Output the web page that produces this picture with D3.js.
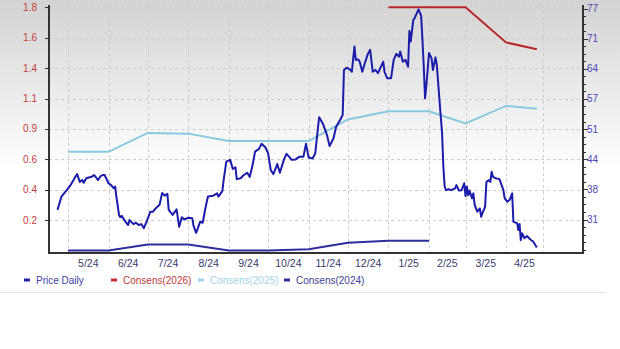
<!DOCTYPE html>
<html>
<head>
<meta charset="utf-8">
<script src="https://cdn.jsdelivr.net/npm/d3@7"></script>
<style>
  body { margin: 0; background: #fff; }
</style>
</head>
<body>
<svg width="620" height="349"></svg>
<script>
const width = 620;
const height = 349;

// plot frame
let plotLeft = 49,
  plotRight = 583,
  plotTop = 5,
  plotBottom = 253;

// data
const leftTickLabels = ["0.2", "0.4", "0.6", "0.9", "1.1", "1.4", "1.6", "1.8"];
const rightTickLabels = ["31", "38", "44", "51", "57", "64", "71", "77"];
const monthLabels = ["5/24", "6/24", "7/24", "8/24", "9/24", "10/24", "11/24", "12/24", "1/25", "2/25", "3/25", "4/25"];

const consens2024 = [
  ["2024-05-01", 0.0], ["2024-06-01", 0.0], ["2024-07-01", 0.044], ["2024-08-01", 0.044],
  ["2024-09-01", 0.0], ["2024-10-01", 0.0], ["2024-11-01", 0.01], ["2024-12-01", 0.058],
  ["2025-01-01", 0.073], ["2025-02-01", 0.073],
];
const consens2025 = [
  ["2024-05-01", 0.73], ["2024-06-01", 0.73], ["2024-07-01", 0.87], ["2024-08-01", 0.865],
  ["2024-09-01", 0.81], ["2024-10-01", 0.81], ["2024-11-01", 0.81], ["2024-12-01", 0.97],
  ["2025-01-01", 1.03], ["2025-02-01", 1.03], ["2025-03-01", 0.94], ["2025-04-01", 1.07],
  ["2025-04-26", 1.05],
];
const consens2026 = [
  ["2025-01-01", 1.8], ["2025-02-01", 1.8], ["2025-03-01", 1.8], ["2025-04-01", 1.54],
  ["2025-04-26", 1.49],
];

const priceDaily = [
  ["2024-04-23",33.1],["2024-04-26",36.0],["2024-04-30",37.4],["2024-05-03",38.5],["2024-05-06",40.0],
  ["2024-05-08",40.9],["2024-05-10",39.2],["2024-05-12",39.6],["2024-05-13",39.0],["2024-05-15",40.0],
  ["2024-05-19",40.3],["2024-05-21",40.7],["2024-05-24",39.6],["2024-05-26",40.5],["2024-05-28",40.7],
  ["2024-05-29",40.7],["2024-06-01",38.9],["2024-06-03",38.5],["2024-06-05",37.8],["2024-06-06",38.2],
  ["2024-06-07",36.0],["2024-06-09",32.0],["2024-06-10",31.5],["2024-06-11",31.8],["2024-06-14",30.5],
  ["2024-06-16",29.8],["2024-06-17",30.9],["2024-06-20",30.0],["2024-06-22",30.3],["2024-06-24",29.8],
  ["2024-06-26",30.0],["2024-06-28",29.1],["2024-06-30",30.5],["2024-07-03",32.7],["2024-07-05",32.7],
  ["2024-07-07",33.4],["2024-07-10",34.2],["2024-07-12",36.8],["2024-07-14",36.2],["2024-07-16",36.6],
  ["2024-07-17",33.1],["2024-07-20",32.0],["2024-07-23",33.2],["2024-07-25",29.4],["2024-07-27",31.5],
  ["2024-07-29",31.0],["2024-08-01",31.4],["2024-08-04",31.3],["2024-08-05",29.6],["2024-08-07",28.1],
  ["2024-08-10",30.5],["2024-08-12",30.3],["2024-08-14",33.4],["2024-08-16",36.0],["2024-08-20",36.2],
  ["2024-08-23",36.7],["2024-08-24",36.0],["2024-08-27",37.2],["2024-08-28",39.6],["2024-08-30",43.6],
  ["2024-09-02",44.0],["2024-09-04",42.0],["2024-09-06",42.4],["2024-09-07",39.8],["2024-09-10",40.0],
  ["2024-09-12",40.6],["2024-09-15",41.2],["2024-09-17",40.3],["2024-09-19",42.7],["2024-09-21",45.8],
  ["2024-09-24",46.4],["2024-09-26",47.5],["2024-09-29",46.7],["2024-10-01",45.4],["2024-10-03",41.8],
  ["2024-10-05",40.9],["2024-10-07",42.3],["2024-10-08",43.1],["2024-10-10",41.2],["2024-10-13",44.0],
  ["2024-10-15",45.3],["2024-10-17",44.7],["2024-10-19",44.0],["2024-10-22",44.1],["2024-10-25",44.7],
  ["2024-10-28",44.7],["2024-10-30",47.5],["2024-11-01",44.5],["2024-11-04",44.3],["2024-11-06",45.4],
  ["2024-11-09",53.3],["2024-11-12",51.8],["2024-11-15",49.4],["2024-11-17",47.0],["2024-11-20",48.7],
  ["2024-11-22",51.2],["2024-11-25",52.7],["2024-11-27",53.8],["2024-11-28",63.6],["2024-11-30",64.1],
  ["2024-12-03",63.6],["2024-12-04",63.2],["2024-12-06",68.7],["2024-12-07",65.8],["2024-12-09",65.9],
  ["2024-12-10",65.4],["2024-12-12",63.2],["2024-12-14",65.1],["2024-12-16",66.9],["2024-12-18",68.0],
  ["2024-12-20",63.2],["2024-12-22",63.6],["2024-12-24",62.9],["2024-12-28",65.4],["2024-12-29",63.2],
  ["2024-12-31",61.8],["2025-01-03",61.8],["2025-01-05",65.8],["2025-01-07",67.1],["2025-01-09",66.5],
  ["2025-01-10",67.6],["2025-01-12",65.4],["2025-01-14",65.8],["2025-01-16",64.3],["2025-01-17",72.1],
  ["2025-01-18",69.8],["2025-01-20",74.5],["2025-01-21",74.9],["2025-01-24",76.8],["2025-01-26",75.4],
  ["2025-01-27",70.1],["2025-01-28",64.3],["2025-01-29",57.4],["2025-01-30",60.3],["2025-02-01",67.3],
  ["2025-02-03",66.1],["2025-02-04",63.6],["2025-02-06",66.3],["2025-02-07",64.7],["2025-02-09",57.1],
  ["2025-02-11",49.9],["2025-02-12",42.5],["2025-02-13",38.2],["2025-02-14",37.4],["2025-02-16",37.6],
  ["2025-02-18",37.4],["2025-02-21",37.8],["2025-02-22",38.5],["2025-02-24",37.3],["2025-02-26",37.4],
  ["2025-02-28",38.9],["2025-03-01",36.1],["2025-03-02",38.2],["2025-03-03",36.3],["2025-03-04",37.3],
  ["2025-03-06",35.6],["2025-03-07",36.7],["2025-03-08",34.2],["2025-03-10",32.7],["2025-03-12",33.4],
  ["2025-03-13",31.6],["2025-03-14",32.4],["2025-03-16",33.8],["2025-03-17",39.2],["2025-03-19",39.6],
  ["2025-03-20",39.2],["2025-03-21",41.4],["2025-03-22",40.3],["2025-03-24",40.0],["2025-03-27",39.8],
  ["2025-03-30",37.4],["2025-03-31",35.6],["2025-04-02",34.9],["2025-04-04",35.3],["2025-04-06",36.7],
  ["2025-04-07",30.5],["2025-04-10",30.2],["2025-04-11",28.7],["2025-04-12",30.0],["2025-04-13",26.5],
  ["2025-04-14",28.0],["2025-04-16",26.9],["2025-04-18",27.4],["2025-04-21",26.6],["2025-04-23",26.2],
  ["2025-04-26",24.9],
];

const legendItems = [
  { name: "Price Daily", mark: "#2323a6", text: "#4040a8", x: 24 },
  { name: "Consens(2026)", mark: "#c23232", text: "#c03a3a", x: 111 },
  { name: "Consens(2025)", mark: "#9fd3e8", text: "#9fd2e6", x: 198 },
  { name: "Consens(2024)", mark: "#2e2e9a", text: "#404096", x: 284 },
];

const parse = d3.timeParse("%Y-%m-%d");
const svg = d3.select("svg").attr("font-family", "'Liberation Sans', Arial, sans-serif");

// month gridlines in the original are not spaced exactly by calendar days
const x = d3
  .scaleTime()
  .domain([new Date(2024, 4, 1), new Date(2025, 1, 1), new Date(2025, 3, 1), new Date(2025, 4, 1)])
  .range([68, 429, 506, 543]);

const yLeft = d3.scaleLinear().domain([0, 1.8]).range([250.5, 7.3]);
const yRight = d3.scaleLinear().domain([31, 77]).range([219.5, 8.5]);

const leftTicks = leftTickLabels.map((d, i) => ((i + 1) * 1.8) / 8);
const rightTicks = rightTickLabels.map((d, i) => 31 + (i * 46) / 7);

// background gradient
const grad = svg
  .append("defs")
  .append("linearGradient")
  .attr("id", "bg")
  .attr("gradientUnits", "userSpaceOnUse")
  .attr("x1", 0)
  .attr("y1", 0)
  .attr("x2", 0)
  .attr("y2", 170);
grad.append("stop").attr("offset", 0).attr("stop-color", "#d3d3d3");
grad.append("stop").attr("offset", 1).attr("stop-color", "#ffffff");

svg.append("rect").attr("width", width).attr("height", height).attr("fill", "url(#bg)");

// grid
const grid = svg.append("g").attr("stroke", "#cdcdcd").attr("stroke-dasharray", "3,3").attr("stroke-width", 1);

grid
  .selectAll("line.h")
  .data(leftTicks)
  .join("line")
  .attr("class", "h")
  .attr("x1", plotLeft)
  .attr("x2", plotRight)
  .attr("y1", (d) => Math.round(yLeft(d)) + 0.5)
  .attr("y2", (d) => Math.round(yLeft(d)) + 0.5);

const monthStarts = d3.timeMonth.range(new Date(2024, 4, 1), new Date(2025, 4, 2));
grid
  .selectAll("line.v")
  .data(monthStarts)
  .join("line")
  .attr("class", "v")
  .attr("x1", (d) => Math.round(x(d)) + 0.5)
  .attr("x2", (d) => Math.round(x(d)) + 0.5)
  .attr("y1", plotTop)
  .attr("y2", plotBottom);

// lines
const lineLeft = d3
  .line()
  .x((d) => x(parse(d[0])))
  .y((d) => yLeft(d[1]));
const lineRight = d3
  .line()
  .x((d) => x(parse(d[0])))
  .y((d) => yRight(d[1]));

svg.append("path").datum(consens2025).attr("d", lineLeft).attr("fill", "none").attr("stroke", "#86c9e0").attr("stroke-width", 2);
svg.append("path").datum(consens2024).attr("d", lineLeft).attr("fill", "none").attr("stroke", "#2e2e9e").attr("stroke-width", 2);
svg.append("path").datum(consens2026).attr("d", lineLeft).attr("fill", "none").attr("stroke", "#b82828").attr("stroke-width", 2);
svg
  .append("path")
  .datum(priceDaily)
  .attr("d", lineRight)
  .attr("fill", "none")
  .attr("stroke", "#1c1caa")
  .attr("stroke-width", 2)
  .attr("stroke-linejoin", "round");

// axes frame
const axisG = svg.append("g").attr("stroke", "#333").attr("stroke-width", 2);
axisG.append("line").attr("x1", plotLeft).attr("x2", plotLeft).attr("y1", plotTop).attr("y2", plotBottom + 1);
axisG.append("line").attr("x1", plotRight).attr("x2", plotRight).attr("y1", plotTop).attr("y2", plotBottom + 1);
axisG.append("line").attr("x1", plotLeft - 1).attr("x2", plotRight + 1).attr("y1", plotBottom).attr("y2", plotBottom);

// left axis
svg
  .append("g")
  .attr("stroke", "#333")
  .selectAll("line")
  .data(leftTicks)
  .join("line")
  .attr("x1", plotLeft - 4)
  .attr("x2", plotLeft)
  .attr("y1", (d) => Math.round(yLeft(d)) + 0.5)
  .attr("y2", (d) => Math.round(yLeft(d)) + 0.5);

svg
  .append("g")
  .selectAll("text")
  .data(leftTicks)
  .join("text")
  .attr("x", 37)
  .attr("y", (d) => yLeft(d))
  .attr("dy", "0.35em")
  .attr("text-anchor", "end")
  .attr("font-size", 10)
  .attr("fill", "#c43c3c")
  .text((d, i) => leftTickLabels[i]);

// right axis with minor ticks
const minorTicks = d3.range(0, 8 * 4).map((i) => 31 + (i * 46) / 28 - 46 / 7).filter((v) => yRight(v) < plotBottom && yRight(v) > plotTop);
svg
  .append("g")
  .attr("stroke", "#333")
  .selectAll("line")
  .data(minorTicks)
  .join("line")
  .attr("x1", plotRight)
  .attr("x2", plotRight + 3)
  .attr("y1", (d) => Math.round(yRight(d)) + 0.5)
  .attr("y2", (d) => Math.round(yRight(d)) + 0.5);

svg
  .append("g")
  .attr("stroke", "#333")
  .selectAll("line")
  .data(rightTicks)
  .join("line")
  .attr("x1", plotRight)
  .attr("x2", plotRight + 5)
  .attr("y1", (d) => Math.round(yRight(d)) + 0.5)
  .attr("y2", (d) => Math.round(yRight(d)) + 0.5);

svg
  .append("g")
  .selectAll("text")
  .data(rightTicks)
  .join("text")
  .attr("x", 587)
  .attr("y", (d) => yRight(d))
  .attr("dy", "0.35em")
  .attr("font-size", 10)
  .attr("fill", "#4848b8")
  .text((d, i) => rightTickLabels[i]);

// month labels, centred in each month
svg
  .append("g")
  .selectAll("text")
  .data(monthLabels)
  .join("text")
  .attr("x", (d, i) => (x(monthStarts[i]) + x(monthStarts[i + 1])) / 2)
  .attr("y", 267)
  .attr("text-anchor", "middle")
  .attr("font-size", 10.5)
  .attr("fill", "#3c3c6c")
  .text((d) => d);

// legend
const legend = svg.append("g");
legend
  .selectAll("line")
  .data(legendItems)
  .join("line")
  .attr("x1", (d) => d.x)
  .attr("x2", (d) => d.x + 6)
  .attr("y1", 280)
  .attr("y2", 280)
  .attr("stroke", (d) => d.mark)
  .attr("stroke-width", 3);
legend
  .selectAll("text")
  .data(legendItems)
  .join("text")
  .attr("x", (d) => d.x + 12)
  .attr("y", 284)
  .attr("font-size", 10)
  .attr("fill", (d) => d.text)
  .text((d) => d.name);

// separator under the legend
svg.append("line").attr("x1", 0).attr("x2", 605).attr("y1", 292.5).attr("y2", 292.5).attr("stroke", "#e2e2e2");
</script>
</body>
</html>
